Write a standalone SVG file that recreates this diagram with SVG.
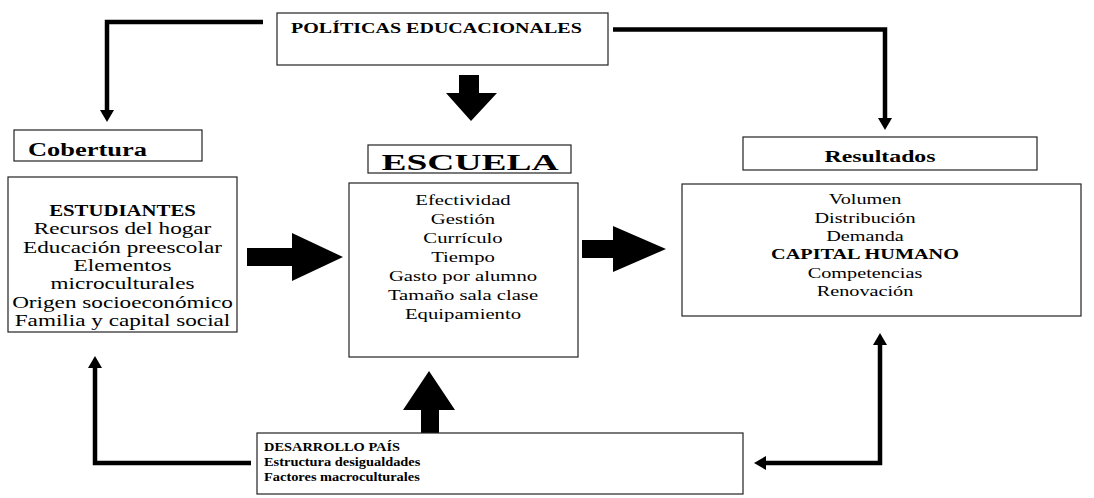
<svg xmlns="http://www.w3.org/2000/svg" width="1094" height="498" viewBox="0 0 1094 498">
<style>
.box{fill:#fff;stroke:#222;stroke-width:1.2}
.t{font-family:"Liberation Serif","Times New Roman",serif;fill:#000}
.b{font-weight:bold}
.m{text-anchor:middle}
.ln{fill:none;stroke:#000;stroke-width:4.5;stroke-linejoin:miter}
.blk{fill:#000}
</style>
<defs>
<marker id="ah" viewBox="0 0 12 14" markerWidth="12" markerHeight="14" refX="2" refY="7" orient="auto-start-reverse" markerUnits="userSpaceOnUse">
<path d="M0,0 L12,7 L0,14 z" fill="#000"/>
</marker>
</defs>
<rect width="1094" height="498" fill="#fff"/>

<g id="connectors">
<path class="ln" d="M263,22 H107 V112" marker-end="url(#ah)"/>
<path class="ln" d="M613,29.5 H885 V120" marker-end="url(#ah)"/>
<path class="ln" d="M251,463 H95 V366" marker-end="url(#ah)"/>
<path class="ln" d="M764,463 H880 V343" marker-start="url(#ah)" marker-end="url(#ah)"/>
<polygon class="blk" points="459,75 479,75 479,93 497,93 471,121 446,93 459,93"/>
<polygon class="blk" points="421,433 439,433 439,410 455,410 429,371 403,410 421,410"/>
<polygon class="blk" points="247,248 292,248 292,233 343,257 292,281 292,266 247,266"/>
<polygon class="blk" points="582,240 613,240 613,226 666,249 613,272 613,258 582,258"/>
</g>

<g id="politicas">
<rect class="box" x="277" y="13" width="331" height="52"/>
<text class="t b" font-size="14" transform="matrix(1.43 0 0 1 291 33)">POLÍTICAS EDUCACIONALES</text>
</g>

<g id="cobertura">
<rect class="box" x="14" y="130" width="188" height="31"/>
<text class="t b" font-size="18" transform="matrix(1.47 0 0 1 28 156)">Cobertura</text>
</g>

<g id="estudiantes">
<rect class="box" x="8" y="177" width="229" height="155"/>
<text class="t b m" font-size="16" transform="matrix(1.3 0 0 1 122.5 216)">ESTUDIANTES</text>
<text class="t m" font-size="16" transform="matrix(1.45 0 0 1 122.5 234)">Recursos del hogar</text>
<text class="t m" font-size="16" transform="matrix(1.45 0 0 1 122.5 252.5)">Educación preescolar</text>
<text class="t m" font-size="16" transform="matrix(1.45 0 0 1 122.5 271)">Elementos</text>
<text class="t m" font-size="16" transform="matrix(1.45 0 0 1 122.5 289)">microculturales</text>
<text class="t m" font-size="16" transform="matrix(1.45 0 0 1 122.5 307.5)">Origen socioeconómico</text>
<text class="t m" font-size="16" transform="matrix(1.45 0 0 1 122.5 326)">Familia y capital social</text>
</g>

<g id="escuela-titulo">
<rect class="box" x="368" y="145" width="203" height="28"/>
<text class="t b m" font-size="23" transform="matrix(1.63 0 0 1 470 170)">ESCUELA</text>
</g>

<g id="escuela">
<rect class="box" x="349" y="183" width="229" height="174"/>
<text class="t m" font-size="15" transform="matrix(1.38 0 0 1 463 205)">Efectividad</text>
<text class="t m" font-size="15" transform="matrix(1.38 0 0 1 463 224)">Gestión</text>
<text class="t m" font-size="15" transform="matrix(1.38 0 0 1 463 243)">Currículo</text>
<text class="t m" font-size="15" transform="matrix(1.38 0 0 1 463 262)">Tiempo</text>
<text class="t m" font-size="15" transform="matrix(1.38 0 0 1 463 281)">Gasto por alumno</text>
<text class="t m" font-size="15" transform="matrix(1.38 0 0 1 463 300)">Tamaño sala clase</text>
<text class="t m" font-size="15" transform="matrix(1.38 0 0 1 463 319)">Equipamiento</text>
</g>

<g id="resultados-titulo">
<rect class="box" x="743" y="137" width="294" height="33"/>
<text class="t b m" font-size="17" transform="matrix(1.4 0 0 1 880 162)">Resultados</text>
</g>

<g id="resultados">
<rect class="box" x="682" y="184" width="399" height="132"/>
<text class="t m" font-size="15" transform="matrix(1.35 0 0 1 865 204)">Volumen</text>
<text class="t m" font-size="15" transform="matrix(1.35 0 0 1 865 222.5)">Distribución</text>
<text class="t m" font-size="15" transform="matrix(1.35 0 0 1 865 241)">Demanda</text>
<text class="t b m" font-size="15" transform="matrix(1.35 0 0 1 865 259)">CAPITAL HUMANO</text>
<text class="t m" font-size="15" transform="matrix(1.35 0 0 1 865 277.5)">Competencias</text>
<text class="t m" font-size="15" transform="matrix(1.35 0 0 1 865 296)">Renovación</text>
</g>

<g id="desarrollo">
<rect class="box" x="257" y="433" width="486" height="61"/>
<text class="t b" font-size="12" transform="matrix(1.2 0 0 1 264 451)">DESARROLLO PAÍS</text>
<text class="t b" font-size="12" transform="matrix(1.2 0 0 1 264 466)">Estructura desigualdades</text>
<text class="t b" font-size="12" transform="matrix(1.2 0 0 1 264 481)">Factores macroculturales</text>
</g>
</svg>
